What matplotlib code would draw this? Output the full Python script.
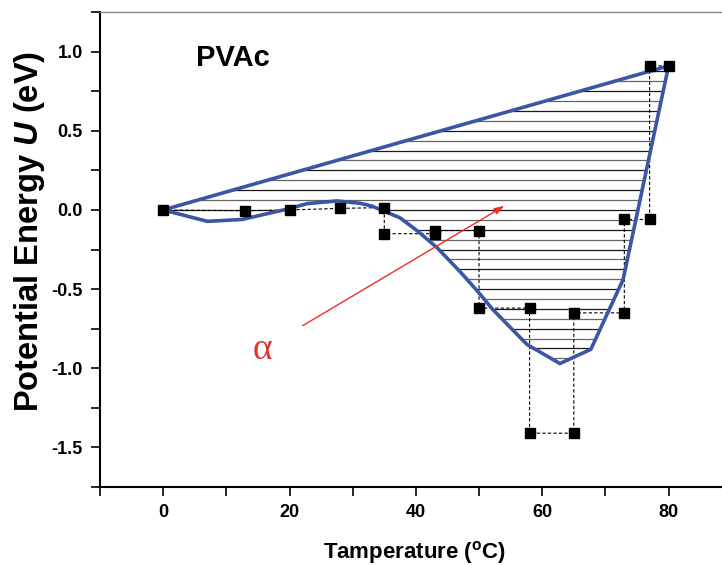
import numpy as np
import matplotlib
matplotlib.use("Agg")
import matplotlib.pyplot as plt
from matplotlib.patches import Polygon
from matplotlib.collections import LineCollection

plt.rcParams['font.family'] = ['Liberation Sans', 'DejaVu Sans']
plt.rcParams['font.weight'] = 'bold'
plt.rcParams['mathtext.fontset'] = 'custom'
plt.rcParams['mathtext.rm'] = 'Liberation Sans:bold'
plt.rcParams['mathtext.it'] = 'Liberation Sans:italic:bold'

# measured points (step path drawn with dashes)
T_pts = [0, 13, 20, 28, 35, 35, 43, 43, 50, 50, 58, 58, 65, 65, 73, 73, 77, 77, 80]
U_pts = [0, -0.005, 0, 0.01, 0.015, -0.15, -0.15, -0.13, -0.13, -0.62, -0.62,
         -1.41, -1.41, -0.65, -0.65, -0.06, -0.06, 0.91, 0.91]

# lower blue curve
T_low = [0, 7, 12.5, 19.6, 22.8, 27.5, 31.2, 33, 37.5, 40.3, 43.4, 47.0, 49.8,
         52.2, 57.6, 62.8, 67.7, 72.8, 80]
U_low = [0, -0.072, -0.06, 0.005, 0.04, 0.057, 0.042, 0.025, -0.05, -0.134, -0.24,
         -0.39, -0.515, -0.63, -0.85, -0.97, -0.88, -0.44, 0.91]

# upper blue line
T_up = [0, 80]
U_up = [0, 0.91]

blue = '#3c55a5'
red = '#e8302a'

fig = plt.figure(figsize=(7.22, 5.65), dpi=100)
ax = fig.add_axes([0.1385, 0.138, 0.875, 0.8407])

ax.set_xlim(-10, 90)
ax.set_ylim(-1.75, 1.25)

# horizontal hatching between the two curves
poly_xy = np.column_stack([np.r_[T_up, T_low[::-1]], np.r_[U_up, U_low[::-1]]])
clip = Polygon(poly_xy, closed=True, facecolor='none', edgecolor='none')
ax.add_patch(clip)
levels = np.arange(-0.9375, 0.91, 0.0625)
segs = [[(-10, y), (90, y)] for y in levels]
cols = ['#1a1a1a' if i % 2 else '#666666' for i in range(len(levels))]
lc = LineCollection(segs, colors=cols, linewidths=0.9, zorder=1)
lc.set_clip_path(clip)
ax.add_collection(lc)

ax.plot(T_pts, U_pts, color='black', lw=0.8, dashes=(3, 2), zorder=2)
ax.plot(T_pts, U_pts, 's', color='black', ms=7, zorder=4)
ax.plot(T_low, U_low, color=blue, lw=2.6, zorder=3)
ax.plot(T_up, U_up, color=blue, lw=2.6, zorder=3)

ax.annotate('', xy=(54.4, 0.035), xytext=(21.7, -0.74),
            arrowprops=dict(arrowstyle='-|>,head_length=0.6,head_width=0.2',
                            color=red, lw=1), zorder=5)
ax.text(15.7, -0.88, '\u03b1', color=red, fontsize=27, fontweight='normal',
        family=['Liberation Serif', 'DejaVu Serif'], ha='center', va='center')
ax.text(11.1, 0.96, 'PVAc', fontsize=21, fontweight='bold', ha='center', va='center')

ax.set_xticks([0, 20, 40, 60, 80])
ax.set_xticks(np.arange(-10, 91, 10), minor=True)
ax.set_yticks([-1.5, -1.0, -0.5, 0.0, 0.5, 1.0])
ax.set_yticks(np.arange(-1.75, 1.26, 0.25), minor=True)
ax.set_yticklabels(['-1.5', '-1.0', '-0.5', '0.0', '0.5', '1.0'])
ax.tick_params(which='both', direction='out', length=6.5, width=1.2,
               labelsize=13, pad=6)
for lab in ax.get_xticklabels() + ax.get_yticklabels():
    lab.set_fontweight('bold')

for s in ['left', 'bottom']:
    ax.spines[s].set_linewidth(1.5)
ax.spines['top'].set_color('#888888')
ax.spines['top'].set_linewidth(1.0)
ax.spines['right'].set_visible(False)

ax.set_xlabel(r'Tamperature ($^{\mathrm{o}}$C)', fontsize=16, fontweight='bold')
ax.set_ylabel(r'Potential Energy $U$ (eV)', fontsize=23.5, fontweight='bold')
ax.xaxis.set_label_coords(0.498, -0.109)
ax.yaxis.set_label_coords(-0.084, 0.539)

fig.savefig('out.png', dpi=100)
